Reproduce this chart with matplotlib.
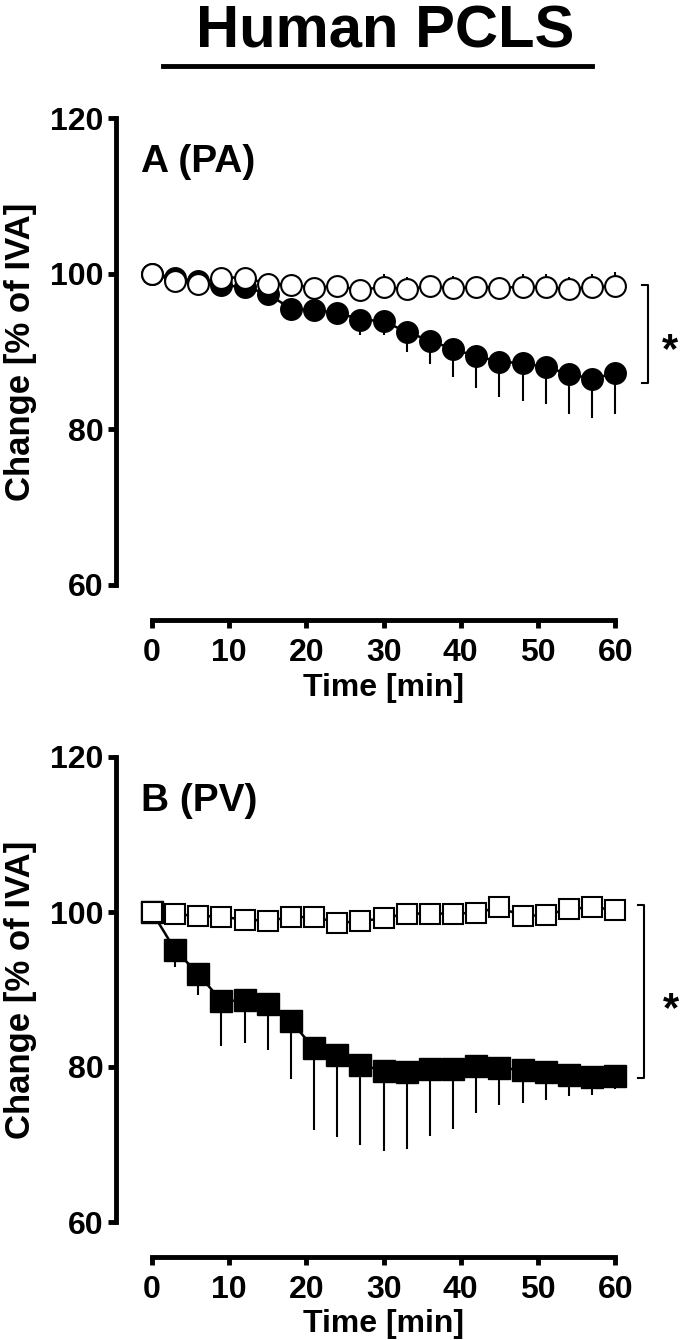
import numpy as np
import matplotlib.pyplot as plt
from matplotlib.lines import Line2D

plt.rcParams['font.family'] = ['Liberation Sans', 'DejaVu Sans']
plt.rcParams['font.weight'] = 'bold'
plt.rcParams['axes.labelweight'] = 'bold'

# time points [min]
time = np.arange(0, 61, 3)

# panel A (PA), circles
pa_ctrl = [100.0, 99.1, 98.7, 99.5, 99.5, 98.7, 98.6, 98.2, 98.4, 97.9, 98.3,
           98.0, 98.4, 98.1, 98.3, 98.2, 98.3, 98.3, 98.0, 98.3, 98.4]
pa_ctrl_sem = [0.0, 0.8, 0.8, 0.9, 1.0, 1.0, 1.0, 1.1, 1.1, 1.2, 1.7,
               1.6, 1.2, 1.6, 1.3, 1.3, 1.7, 1.7, 1.6, 1.7, 1.8]
pa_treat = [100.0, 99.5, 99.0, 98.5, 98.3, 97.4, 95.5, 95.3, 95.0, 94.1, 93.9,
            92.5, 91.4, 90.3, 89.4, 88.7, 88.5, 88.0, 87.1, 86.5, 87.2]
pa_treat_sem = [0.0, 0.5, 0.6, 0.8, 1.0, 1.0, 1.5, 1.3, 1.6, 2.0, 1.8,
                2.5, 3.0, 3.6, 4.1, 4.5, 4.8, 4.8, 5.1, 5.1, 5.2]

# panel B (PV), squares
pv_ctrl = [100.0, 99.7, 99.5, 99.4, 99.0, 98.9, 99.3, 99.4, 98.6, 98.8, 99.2,
           99.8, 99.8, 99.8, 99.9, 100.6, 99.5, 99.6, 100.4, 100.6, 100.3]
pv_ctrl_sem = [0.0, 0.6, 0.7, 0.8, 0.8, 0.9, 0.9, 0.9, 1.0, 1.0, 1.0,
               1.0, 1.0, 1.0, 1.0, 1.0, 1.0, 1.0, 1.0, 1.0, 1.0]
pv_treat = [100.0, 95.1, 92.0, 88.5, 88.6, 88.1, 85.9, 82.4, 81.5, 80.3, 79.5,
            79.4, 79.8, 79.7, 80.1, 79.9, 79.6, 79.3, 79.0, 78.7, 78.8]
pv_treat_sem = [0.0, 2.2, 2.7, 5.8, 5.5, 5.9, 7.5, 10.5, 10.5, 10.4, 10.4,
                10.0, 8.7, 7.7, 6.0, 4.8, 4.2, 3.5, 2.7, 2.3, 1.6]

W, H = 685, 1340
fig = plt.figure(figsize=(W / 100, H / 100), dpi=100)


def px_axes(left, top, right, bottom):
    return fig.add_axes([left / W, 1 - bottom / H, (right - left) / W, (bottom - top) / H])


def panel(ax, ctrl, ctrl_sem, treat, treat_sem, marker, label, bracket, star):
    zeros = np.zeros(len(time))
    ax.errorbar(time, treat, yerr=[treat_sem, zeros], marker=marker, ms=15.5,
                mfc='black', mec='black', color='black', lw=1.8,
                elinewidth=1.5, capsize=0, zorder=3)
    ax.errorbar(time, ctrl, yerr=[zeros, ctrl_sem], marker=marker, ms=15,
                mfc='white', mec='black', mew=1.5, color='black', lw=1.8,
                elinewidth=1.5, capsize=0, zorder=4)

    ax.set_xlim(-4.66, 63.21)
    ax.set_ylim(60, 120)
    for s in ['top', 'right']:
        ax.spines[s].set_visible(False)
    for s in ['left', 'bottom']:
        ax.spines[s].set_linewidth(3.5)
    ax.spines['bottom'].set_position(('outward', 25))
    ax.spines['bottom'].set_bounds(0, 60)
    ax.spines['left'].set_bounds(60, 120)
    ax.set_xticks(range(0, 61, 10))
    ax.set_yticks([60, 80, 100, 120])
    ax.tick_params(length=6, width=3.5, labelsize=23)
    ax.tick_params(axis='x', pad=7)
    ax.tick_params(axis='y', pad=3)

    ax.set_xlabel('Time [min]', fontsize=23)
    ax.xaxis.set_label_coords(0.51, -0.188)
    ax.set_ylabel('Change [% of IVA]', fontsize=25)
    ax.yaxis.set_label_coords(-0.151, 0.5)

    ax.text(-1.42, 113.0, label, fontsize=28, ha='left', va='baseline')

    bx, top, bot = bracket
    ax.plot([bx - 0.7, bx, bx, bx - 0.7], [top, top, bot, bot],
            color='black', lw=1.5, clip_on=False)
    ax.text(star[0], star[1], '*', fontsize=30, ha='center', va='baseline')


ax_a = px_axes(116, 118, 640, 585)
panel(ax_a, pa_ctrl, pa_ctrl_sem, pa_treat, pa_treat_sem, 'o', 'A (PA)',
      (64.2, 98.5, 86.0), (67.1, 88.6))

ax_b = px_axes(116, 757, 640, 1222)
panel(ax_b, pv_ctrl, pv_ctrl_sem, pv_treat, pv_treat_sem, 's', 'B (PV)',
      (63.7, 100.9, 78.6), (67.2, 85.9))

fig.text(385 / W, 1 - 48 / H, 'Human PCLS', fontsize=43, ha='center', va='baseline')
fig.add_artist(Line2D([163 / W, 592 / W], [1 - 66 / H, 1 - 66 / H], lw=3.5, color='black'))

fig.savefig('out.png', dpi=100)
